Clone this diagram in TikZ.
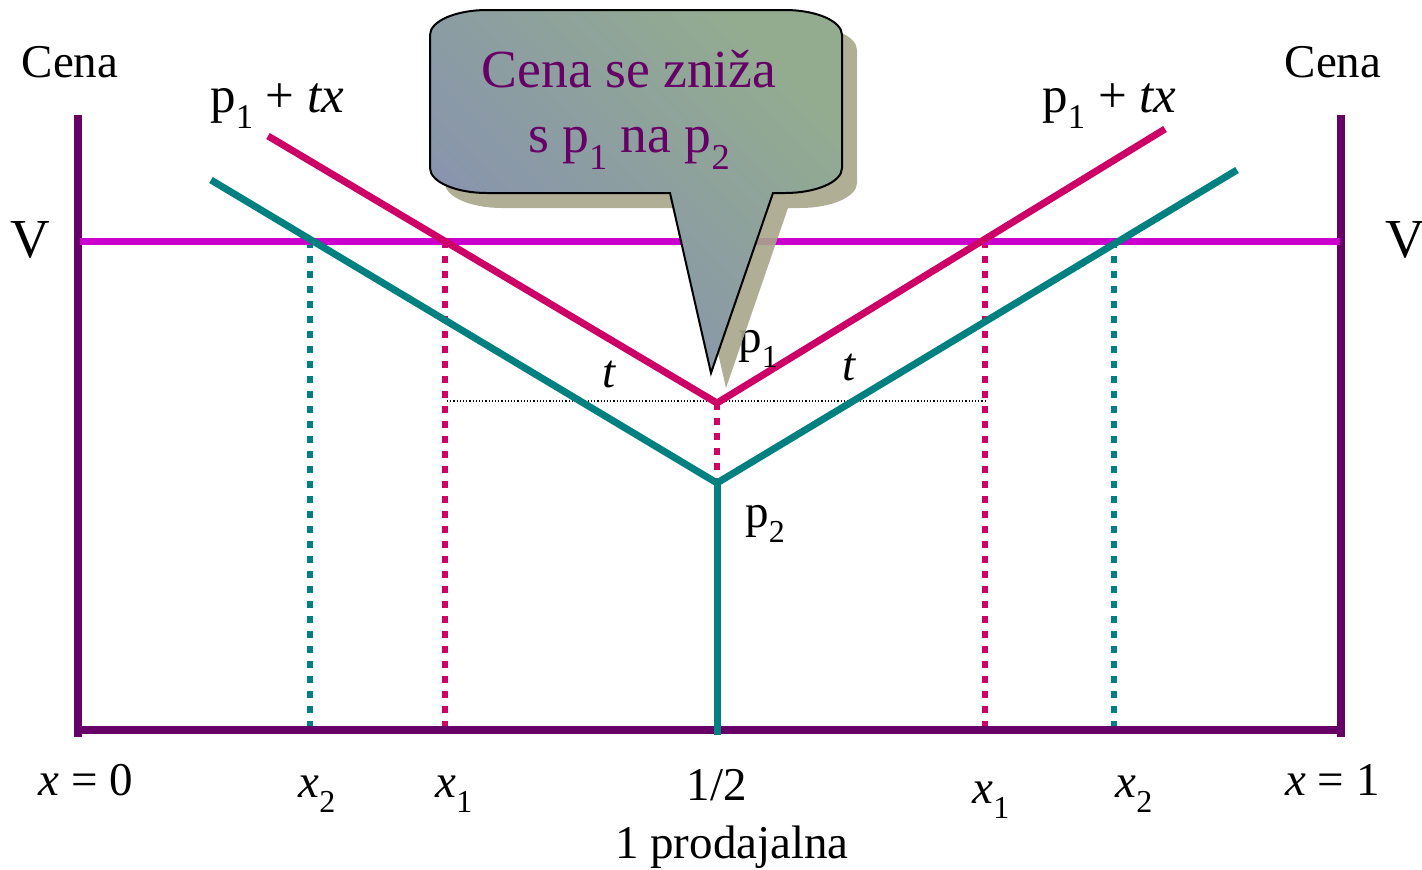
\documentclass[tikz,border=0pt]{standalone}
\usepackage{fontspec}
\setmainfont{Liberation Serif}
\usepackage{tikz}
\usetikzlibrary{calc}
\definecolor{axisc}{HTML}{660066}
\definecolor{redc}{HTML}{CC0066}
\definecolor{tealc}{HTML}{008080}
\definecolor{valc}{HTML}{CC00CC}
\definecolor{shadowc}{HTML}{A9A58B}
\definecolor{bubL}{HTML}{8690B2}
\definecolor{bubR}{HTML}{93AC90}
\tikzset{
  lbl/.style={font=\fontsize{23.5}{28}\selectfont, inner sep=0pt},
  biglbl/.style={lbl, font=\fontsize{25.5}{30}\selectfont},
  axisline/.style={axisc, line width=4pt},
  redline/.style={redc, line width=3.5pt},
  tealline/.style={tealc, line width=3.5pt},
  reddots/.style={redc, line width=3.2pt, dash pattern=on 3.5pt off 4pt},
  tealdots/.style={tealc, line width=3.2pt, dash pattern=on 3.5pt off 4pt}
}
\newcommand\subidx[1]{\raisebox{-0.32em}{\scalebox{0.68}{#1}}}
\newcommand\bubblepath{(430,35) .. controls (430,21) and (456,10) .. (487,10)
  -- (785,10) .. controls (816,10) and (842,21) .. (842,35)
  -- (842,168) .. controls (842,182) and (816,193) .. (785,193)
  -- (773,193) -- (711,373) -- (670,193) -- (487,193)
  .. controls (456,193) and (430,182) .. (430,168) -- cycle}

\begin{document}
\begin{tikzpicture}[x=0.5pt, y=-0.5pt]
\useasboundingbox (0,0) rectangle (1422,869);
\coordinate (LT) at (78,115);
\coordinate (LB) at (78,737);
\coordinate (RT) at (1341,115);
\coordinate (RB) at (1341,737);
\coordinate (BL) at (74,730);
\coordinate (BR) at (1345,730);
\coordinate (VL) at (80,241);
\coordinate (VR) at (1340,241);
\coordinate (R1) at (268,136);
\coordinate (RM) at (717,403);
\coordinate (R2) at (1165,129);
\coordinate (T1) at (211,180);
\coordinate (TM) at (717,483);
\coordinate (T2) at (1237,170);
\coordinate (TB) at (717,735);
% dotted verticals
\draw[tealdots] (310,241) -- (310,735);
\draw[reddots] (445,241) -- (445,735);
\draw[reddots] (985,241) -- (985,735);
\draw[tealdots] (1114,241) -- (1114,735);
\draw[reddots] (RM) -- (TM);
\draw[densely dotted, line width=0.6pt] (447,401) -- (985,401);
% axes
\draw[axisline] (LT) -- (LB);
\draw[axisline] (RT) -- (RB);
\draw[axisline] (BL) -- (BR);
\draw[valc, line width=3.5pt] (VL) -- (VR);
% price lines
\draw[redline] (R1) -- (RM) -- (R2);
\draw[tealline] (T1) -- (TM) -- (T2);
\draw[tealline] (TM) -- (TB);
% labels
\node[lbl] (cenaL) at (70,62) {Cena};
\node[lbl] (cenaR) at (1333,62) {Cena};
\node[lbl, font=\fontsize{27.5}{30}\selectfont] (vL) at (30,240) {V};
\node[lbl, font=\fontsize{27.5}{30}\selectfont] (vR) at (1405,240) {V};
\node[biglbl, anchor=base west] (pxL) at (210,112) {p\subidx{1} + \textit{tx}};
\node[biglbl, anchor=base west] (pxR) at (1042,112) {p\subidx{1} + \textit{tx}};
\node[lbl, anchor=base west] (tL) at (602,387) {\textit{t}};
\node[lbl, anchor=base west] (tR) at (842,380) {\textit{t}};
\node[lbl, anchor=base west] (p1) at (738,352) {p\subidx{1}};
\node[lbl, anchor=base west] (p2) at (745,527) {p\subidx{2}};
\node[lbl, anchor=base west] (x0) at (38,795) {\textit{x} = 0};
\node[lbl, anchor=base west] (x2L) at (298,797) {\textit{x}\subidx{2}};
\node[lbl, anchor=base west] (x1L) at (435,797) {\textit{x}\subidx{1}};
\node[lbl, anchor=base] (half) at (717,800) {1/2};
\node[lbl, anchor=base west] (x1R) at (972,803) {\textit{x}\subidx{1}};
\node[lbl, anchor=base west] (x2R) at (1115,797) {\textit{x}\subidx{2}};
\node[lbl, anchor=base east] (x1) at (1380,795) {\textit{x} = 1};
\node[lbl, anchor=base] (prod) at (732,858) {1 prodajalna};
% callout
\fill[shadowc, opacity=0.9, shift={(15,15)}] \bubblepath;
\path[draw=black, line width=1pt, top color=bubR, bottom color=bubL, shading angle=-45] \bubblepath;
\node[lbl, font=\fontsize{26.8}{30}\selectfont, text=axisc, anchor=base] (msg1) at (629,87) {Cena se zniža};
\node[lbl, font=\fontsize{26.8}{30}\selectfont, text=axisc, anchor=base] (msg2) at (629,152) {s p\subidx{1} na p\subidx{2}};
\end{tikzpicture}
\end{document}
